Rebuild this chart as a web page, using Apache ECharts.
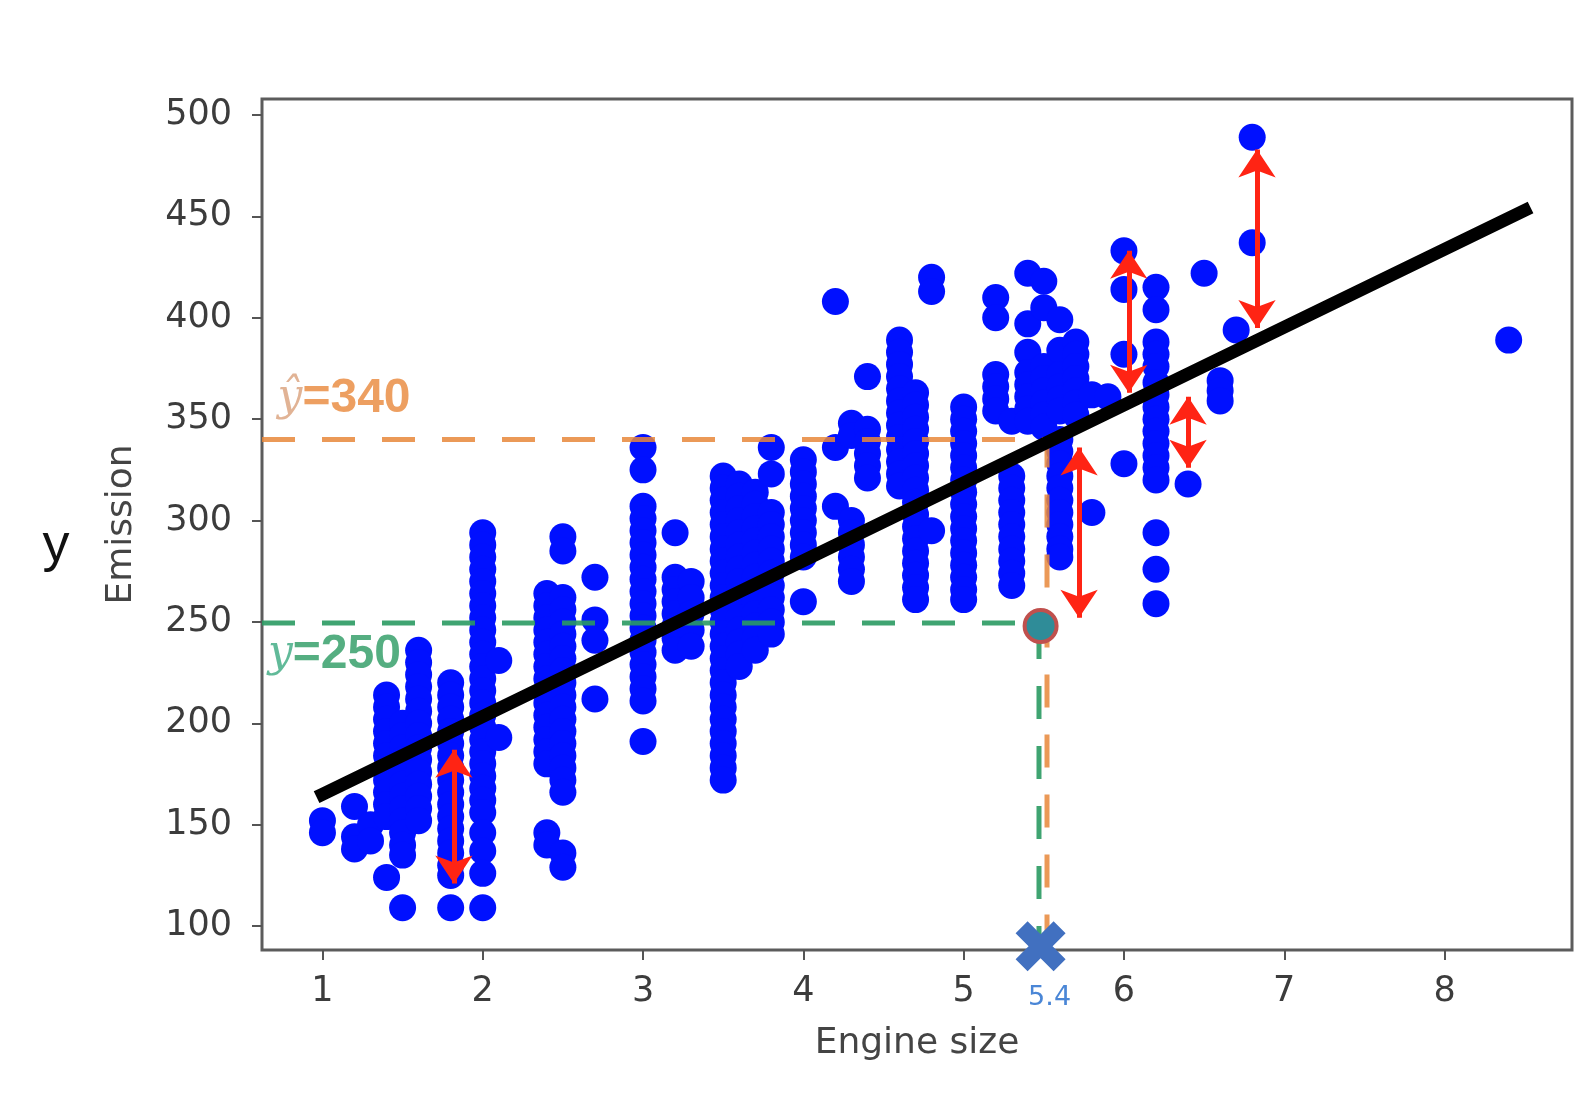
<!DOCTYPE html>
<html><head><meta charset="utf-8">
<script src="https://cdn.jsdelivr.net/npm/echarts@6/dist/echarts.min.js"></script>
<style>html,body{margin:0;padding:0;background:#fff}#chart{width:1578px;height:1114px}</style>
</head><body><div id="chart"></div>
<script>
// ---------- data ----------
const xTicks = [1, 2, 3, 4, 5, 6, 7, 8];
const yTicks = [100, 150, 200, 250, 300, 350, 400, 450, 500];
const xRange = [0.623, 8.795];
const yRange = [88.2, 507.9];

const engineSizes = [1.0, 1.2, 1.3, 1.4, 1.5, 1.6, 1.8, 2.0, 2.1, 2.4, 2.5, 2.7, 3.0, 3.2, 3.3, 3.5, 3.6, 3.7, 3.8,
  4.0, 4.2, 4.3, 4.4, 4.6, 4.7, 4.8, 5.0, 5.2, 5.3, 5.4, 5.5, 5.6, 5.7, 5.8, 5.9, 6.0, 6.2, 6.4, 6.5, 6.6, 6.7, 6.8, 8.4];
const emissionGroups = [
  [152, 146],
  [159, 144, 138],
  [150, 142],
  [214, 208, 202, 196, 190, 184, 178, 172, 166, 160, 154, 124],
  [200, 194, 188, 182, 176, 170, 164, 158, 152, 146, 140, 135, 109],
  [236, 230, 224, 218, 212, 206, 200, 194, 188, 182, 176, 170, 164, 158, 152],
  [220, 214, 208, 202, 196, 190, 184, 178, 172, 166, 160, 154, 148, 142, 136, 130, 125, 109],
  [294, 288, 282, 276, 270, 264, 258, 252, 246, 240, 234, 228, 222, 216, 210, 204, 198, 192, 186, 180, 174, 168, 162, 156, 146, 137, 126, 109],
  [231, 193],
  [264, 258, 252, 246, 240, 234, 228, 222, 216, 210, 204, 198, 192, 186, 180, 146, 140],
  [292, 285, 262, 256, 250, 244, 238, 232, 226, 220, 214, 208, 202, 196, 190, 184, 178, 172, 166, 136, 129],
  [272, 251, 241, 212],
  [336, 325, 307, 301, 295, 289, 283, 277, 271, 265, 259, 253, 247, 241, 235, 229, 223, 217, 211, 191],
  [294, 272, 266, 260, 254, 248, 242, 236],
  [270, 262, 254, 246, 238],
  [322, 316, 310, 304, 298, 292, 286, 280, 274, 268, 262, 256, 250, 244, 238, 232, 226, 220, 214, 208, 202, 196, 190, 184, 178, 172],
  [318, 312, 306, 300, 294, 288, 282, 276, 270, 264, 258, 252, 246, 240, 234, 228],
  [314, 308, 302, 296, 290, 284, 278, 272, 266, 260, 254, 248, 242, 236],
  [336, 323, 304, 298, 292, 286, 280, 274, 268, 262, 256, 250, 244],
  [330, 324, 318, 312, 306, 300, 294, 288, 282, 260],
  [408, 336, 307],
  [348, 342, 300, 294, 288, 282, 276, 270],
  [371, 345, 339, 333, 327, 321],
  [389, 383, 377, 371, 365, 359, 353, 347, 341, 335, 329, 323, 317],
  [363, 357, 351, 345, 339, 333, 327, 321, 315, 309, 303, 297, 291, 285, 279, 273, 267, 261],
  [420, 413, 295],
  [356, 350, 344, 338, 332, 326, 320, 314, 308, 302, 296, 290, 284, 278, 272, 266, 261],
  [410, 400, 372, 366, 360, 354],
  [349, 322, 316, 310, 304, 298, 292, 286, 280, 274, 268],
  [422, 397, 383, 373, 367, 361, 355, 349],
  [418, 405, 376, 370, 364, 358, 352, 346],
  [399, 384, 372, 366, 360, 354, 340, 334, 328, 322, 316, 310, 304, 298, 292, 286, 282],
  [388, 382, 376, 370, 364, 358, 352],
  [362, 304],
  [361],
  [433, 414, 382, 328],
  [415, 404, 388, 382, 376, 368, 362, 356, 350, 344, 338, 332, 326, 320, 294, 276, 259],
  [318],
  [422],
  [369, 364, 359],
  [394],
  [489, 437],
  [389]
];

const fitLine = [[1.0, 165], [8.5, 453]];
// [engine size, from emission, to emission]
const residualArrows = [[1.82, 187, 121], [5.72, 336, 252], [6.03, 433, 363], [6.4, 361, 326], [6.83, 483, 395]];

const yHatValue = 340;
const yObsValue = 249.5;
const orangeGuideX = 5.52;
const greenGuideX = 5.47;
const predictionX = 5.48;
const predictionPointY = 248;
const markerY = 90;
const predictionLabel = '5.4';
const yHatLabelPos = [0.72, 360];
const yLabelPos = [0.66, 234];

// ---------- build ----------
const points = [];
engineSizes.forEach((x, i) => emissionGroups[i].forEach(y => points.push([x, y])));

const chart = echarts.init(document.getElementById('chart'));
const tickLabelStyle = { fontFamily: 'DejaVu Sans', fontSize: 35, color: '#3c3c3c' };
const axisNameStyle = { fontFamily: 'DejaVu Sans', fontSize: 36, color: '#444' };

chart.setOption({
  animation: false,
  backgroundColor: '#fff',
  grid: { left: 262, top: 99, width: 1310, height: 851, show: true, borderColor: '#5c5c5c', borderWidth: 3, backgroundColor: '#fff' },
  xAxis: {
    type: 'value', min: xRange[0], max: xRange[1],
    name: 'Engine size', nameLocation: 'middle', nameGap: 76, nameTextStyle: axisNameStyle,
    axisLine: { show: false },
    axisTick: { show: true, length: 10, lineStyle: { color: '#555', width: 2 }, customValues: xTicks },
    axisLabel: Object.assign({ margin: 24, customValues: xTicks }, tickLabelStyle),
    splitLine: { show: false }
  },
  yAxis: {
    type: 'value', min: yRange[0], max: yRange[1],
    name: 'Emission', nameLocation: 'middle', nameGap: 122, nameTextStyle: axisNameStyle,
    axisLine: { show: false },
    axisTick: { show: true, length: 10, lineStyle: { color: '#555', width: 2 }, customValues: yTicks },
    axisLabel: Object.assign({ margin: 30, customValues: yTicks }, tickLabelStyle),
    splitLine: { show: false }
  },
  graphic: [{
    type: 'text', x: 56, y: 546,
    style: { text: 'y', font: '54px "Liberation Sans"', fill: '#111', align: 'center', verticalAlign: 'middle' }
  }],
  series: [
    {
      name: 'Emission', type: 'scatter', data: points, symbolSize: 27,
      itemStyle: { color: '#0010ff', opacity: 1 }, z: 2
    },
    {
      name: 'ŷ guide', type: 'line', symbol: 'none', z: 3,
      data: [[xRange[0], yHatValue], [orangeGuideX, yHatValue], [orangeGuideX, markerY]],
      lineStyle: { color: '#e8873a', width: 5, type: [33, 27], opacity: 0.85 }
    },
    {
      name: 'y guide', type: 'line', symbol: 'none', z: 3,
      data: [[xRange[0], yObsValue], [greenGuideX, yObsValue], [greenGuideX, markerY]],
      lineStyle: { color: '#2a9a62', width: 5, type: [33, 27], opacity: 0.9 }
    },
    {
      name: 'Fit', type: 'line', symbol: 'none', z: 4, data: fitLine,
      lineStyle: { color: '#000', width: 13, cap: 'square' }
    },
    {
      name: 'Residuals', type: 'lines', coordinateSystem: 'cartesian2d', z: 5,
      symbol: ['arrow', 'arrow'], symbolSize: 28,
      lineStyle: { color: '#ff2414', width: 5, opacity: 1 },
      data: residualArrows.map(a => ({ coords: [[a[0], a[1]], [a[0], a[2]]] }))
    },
    {
      name: 'Prediction', type: 'scatter', z: 6, symbolSize: 32,
      data: [[predictionX, predictionPointY]],
      itemStyle: { color: '#2f8c98', borderColor: '#c0504d', borderWidth: 4, opacity: 1 }
    },
    {
      name: 'Input', type: 'scatter', z: 7, clip: false, symbolSize: 50,
      symbol: 'path://M24,0L50,26L76,0L100,24L74,50L100,76L76,100L50,74L24,100L0,76L26,50L0,24Z',
      data: [[predictionX, markerY]],
      itemStyle: { color: '#4170c0', opacity: 1 },
      label: { show: true, position: 'bottom', distance: 13, offset: [9, 0], formatter: predictionLabel,
        fontFamily: 'DejaVu Sans', fontSize: 27, color: '#4a86d6' }
    },
    {
      name: 'Annotations', type: 'scatter', z: 8, symbolSize: 0, clip: false,
      data: [
        { value: yHatLabelPos, label: { formatter: '{h|ŷ}{o|=340}' } },
        { value: yLabelPos, label: { formatter: '{hg|y}{g|=250}' } }
      ],
      label: {
        show: true, position: 'right', distance: 0,
        rich: {
          h: { fontFamily: 'DejaVu Serif', fontStyle: 'italic', fontSize: 44, color: '#d9a07a' },
          hg: { fontFamily: 'DejaVu Serif', fontStyle: 'italic', fontSize: 44, color: '#3aa97f' },
          o: { fontFamily: 'Liberation Sans', fontWeight: 'bold', fontSize: 48, color: '#e8873a' },
          g: { fontFamily: 'Liberation Sans', fontWeight: 'bold', fontSize: 48, color: '#2a9a62' }
        }
      }
    }
  ]
});
</script>
</body></html>
